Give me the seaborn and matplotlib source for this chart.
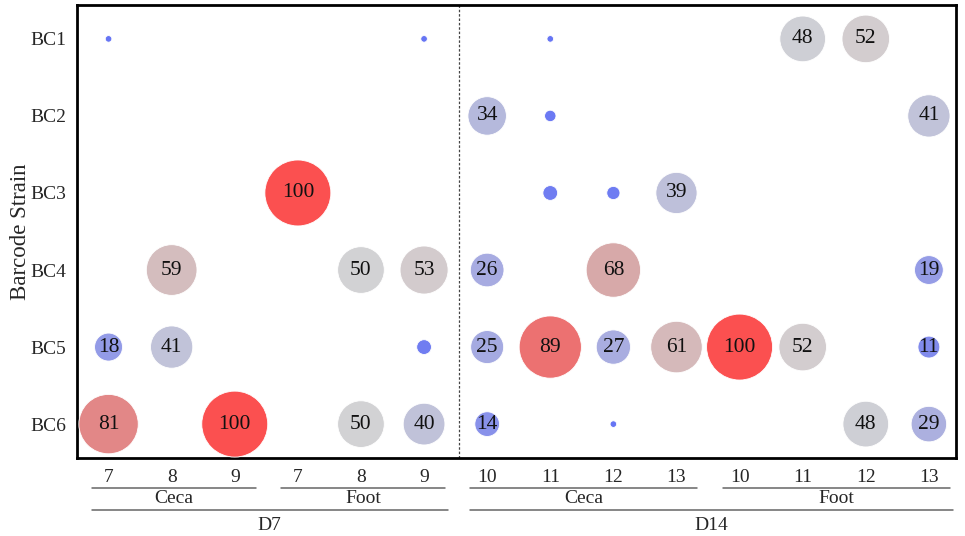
import numpy as np
import pandas as pd
import matplotlib
matplotlib.use("Agg")
import matplotlib.pyplot as plt
import matplotlib.transforms as mtransforms
from matplotlib.colors import LinearSegmentedColormap
import seaborn as sns

# Data
strains = ["BC1", "BC2", "BC3", "BC4", "BC5", "BC6"]
col_labels = ["7", "8", "9", "7", "8", "9",
              "10", "11", "12", "13", "10", "11", "12", "13"]
# percentage per strain (rows) and sample column; 0 = absent
bc1 = [1, 0, 0, 0, 0, 1, 0, 1, 0, 0, 0, 48, 52, 0]
bc2 = [0, 0, 0, 0, 0, 0, 34, 3, 0, 0, 0, 0, 0, 41]
bc3 = [0, 0, 0, 100, 0, 0, 0, 5, 4, 39, 0, 0, 0, 0]
bc4 = [0, 59, 0, 0, 50, 53, 26, 0, 68, 0, 0, 0, 0, 19]
bc5 = [18, 41, 0, 0, 0, 5, 25, 89, 27, 61, 100, 52, 0, 11]
bc6 = [81, 0, 100, 0, 50, 40, 14, 0, 1, 0, 0, 0, 48, 29]

# column groups: (label, first col, last col)
tissue_groups = [("Ceca", 0, 2), ("Foot", 3, 5), ("Ceca", 6, 9), ("Foot", 10, 13)]
day_groups = [("D7", 0, 5), ("D14", 6, 13)]

rows = []
for s, vals in zip(strains, [bc1, bc2, bc3, bc4, bc5, bc6]):
    for i, v in enumerate(vals):
        if v > 0:
            rows.append({"strain": s, "col": i, "row": strains.index(s), "value": v})
df = pd.DataFrame(rows)

sns.set_style("white")
plt.rcParams["font.family"] = ["Liberation Serif", "DejaVu Serif"]

cmap = LinearSegmentedColormap.from_list(
    "bwr_soft",
    [(0.0, "#6473f5"), (0.25, "#a5aae1"), (0.5, "#d2d2d4"),
     (0.7, "#d7a5a5"), (0.85, "#e67d7d"), (1.0, "#fb5050")])

fig = plt.figure(figsize=(9.65, 5.36), dpi=100)
ax = fig.add_axes([0.0798, 0.1455, 0.9109, 0.8452])

sns.scatterplot(data=df, x="col", y="row", hue="value", size="value",
                palette=cmap, hue_norm=(0, 100),
                sizes=(0, 2256), size_norm=(0, 100),
                edgecolor="white", linewidth=0.6, legend=False, ax=ax, zorder=3)

for _, r in df.iterrows():
    if r["value"] >= 10:
        ax.text(r["col"], r["row"], f"{int(r['value'])}", ha="center", va="center",
                fontsize=15.5, color="#111111", zorder=4)

ax.set_xlim(-0.5, 13.43)
ax.set_ylim(5.44, -0.44)
ax.set_xticks(range(len(col_labels)))
ax.set_xticklabels(col_labels, fontsize=14)
ax.set_yticks(range(len(strains)))
ax.set_yticklabels(strains, fontsize=14)
ax.tick_params(length=0, pad=8)
ax.set_xlabel("")
ax.set_ylabel("Barcode Strain", fontsize=16.5)
ax.yaxis.set_label_coords(-0.052, 0.5)
for sp in ax.spines.values():
    sp.set_color("black")
    sp.set_linewidth(2)

ax.axvline(5.55, color="#444444", linestyle=(0, (2, 1.5)), linewidth=0.9, zorder=1)

# group brackets under the x axis
trans = mtransforms.blended_transform_factory(ax.transData, ax.transAxes)
for name, a, b in tissue_groups:
    x0, x1 = a - 0.27, b + 0.33
    ax.plot([x0, x1], [-0.066, -0.066], color="#666666", lw=1.1,
            transform=trans, clip_on=False)
    ax.text((x0 + x1) / 2, -0.09, name, ha="center", va="center",
            fontsize=14, transform=trans)
for name, a, b in day_groups:
    x0, x1 = a - 0.27, b + 0.38
    ax.plot([x0, x1], [-0.115, -0.115], color="#666666", lw=1.1,
            transform=trans, clip_on=False)
    ax.text((x0 + x1) / 2, -0.15, name, ha="center", va="center",
            fontsize=14, transform=trans)

fig.savefig("out.png", dpi=100)
